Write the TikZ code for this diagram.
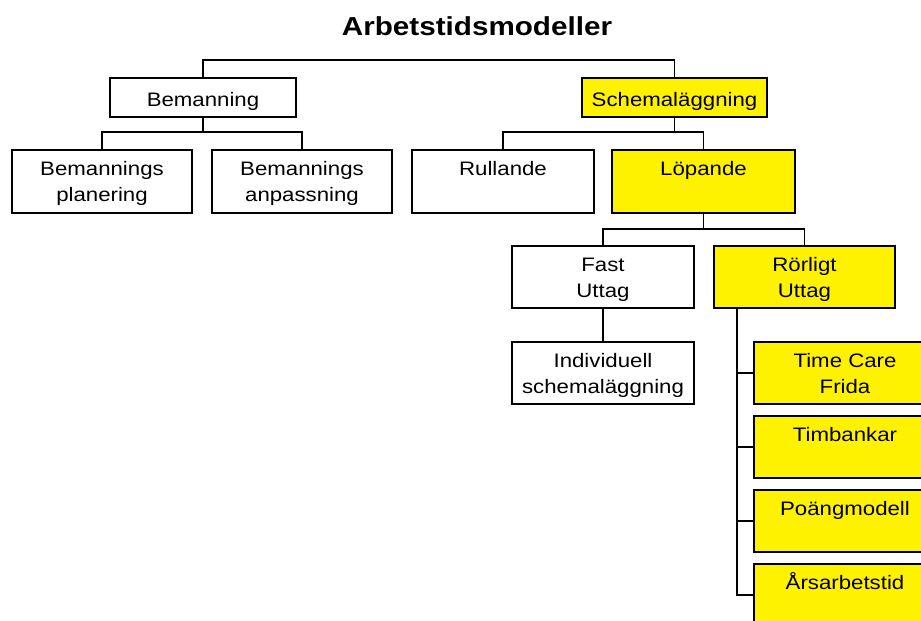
\documentclass[tikz,border=0pt]{standalone}
\usepackage{fontspec}
\setmainfont[FakeStretch=1.14]{Liberation Sans}
\newcommand{\bt}[4]{\parbox[c][#2pt][t]{#1pt}{\centering\rule{0pt}{#3pt}#4}}
\begin{document}
\begin{tikzpicture}[x=1pt,y=-1pt,
  box/.style={draw, line width=1.3pt, inner sep=0pt, outer sep=0pt, anchor=north west,
    font=\fontsize{19.5}{26.5}\selectfont},
  yel/.style={fill=yellow},
  conn/.style={line width=1.3pt}]
\useasboundingbox (0,0) rectangle (921,621);
\clip (0,0) rectangle (921,621);
\node[anchor=base, font=\fontsize{26}{30}\selectfont\bfseries] (title) at (477,35.7) {Arbetstidsmodeller};
\node[box] (bem) at (110,78) {\bt{186}{39}{28.5}{Bemanning}};
\node[box,yel] (sch) at (582,78) {\bt{185}{39}{28.5}{Schemaläggning}};
\node[box] (bp) at (12,150) {\bt{180}{63}{25}{Bemannings\\planering}};
\node[box] (ba) at (212,150) {\bt{180}{63}{25}{Bemannings\\anpassning}};
\node[box] (rul) at (412,150) {\bt{182}{63}{25}{Rullande}};
\node[box,yel] (lop) at (612,150) {\bt{183}{63}{25}{Löpande}};
\node[box] (fast) at (512,246) {\bt{182}{62}{25}{Fast\\Uttag}};
\node[box,yel] (ror) at (714,246) {\bt{181}{62}{25}{Rörligt\\Uttag}};
\node[box] (ind) at (512,342) {\bt{182}{62}{25}{Individuell\\schemaläggning}};
\node[box,yel] (tcf) at (754,342) {\bt{182}{62}{25}{Time Care\\Frida}};
\node[box,yel] (tim) at (754,416) {\bt{182}{62}{25}{Timbankar}};
\node[box,yel] (poa) at (754,490) {\bt{182}{62}{25}{Poängmodell}};
\node[box,yel] (ars) at (754,564) {\bt{182}{62}{25}{Årsarbetstid}};
\coordinate (root) at (438,60);
\draw[conn] (bem.north) |- (root) -| (sch.north);
\draw[conn] (bem.south) -- ++(0,15) coordinate (bj);
\draw[conn] (bp.north) |- (bj) -| (ba.north);
\draw[conn] (sch.south) -- ++(0,15) coordinate (sj);
\draw[conn] (rul.north) |- (sj) -| (lop.north);
\draw[conn] (lop.south) -- ++(0,16) coordinate (lj);
\draw[conn] (fast.north) |- (lj) -| (ror.north);
\draw[conn] (fast.south) -- (ind.north);
\coordinate (rs) at ([xshift=23pt]ror.south west);
\draw[conn] (rs) |- (ars.west);
\foreach \n in {tcf,tim,poa} \draw[conn] (\n.west) -- (\n.west -| rs);
\end{tikzpicture}
\end{document}
